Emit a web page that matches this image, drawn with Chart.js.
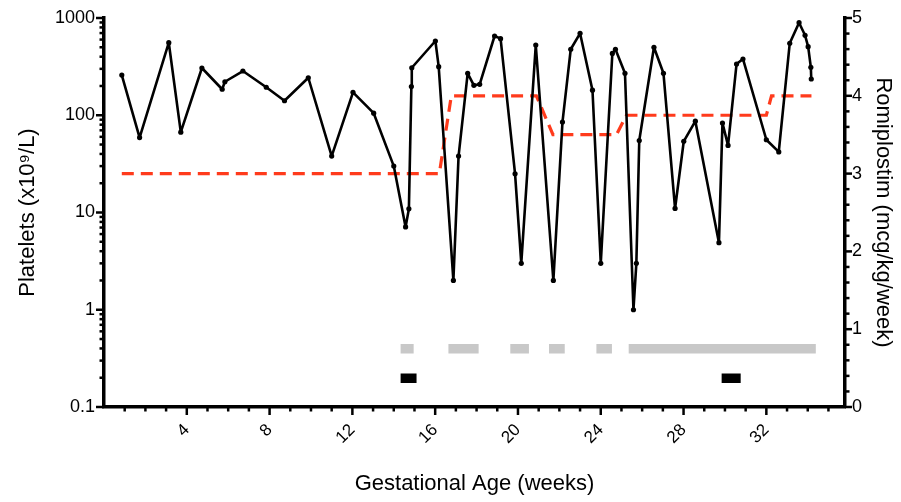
<!DOCTYPE html>
<html>
<head>
<meta charset="utf-8">
<script src="https://cdn.jsdelivr.net/npm/chart.js@4"></script>
<style>
html,body{margin:0;padding:0;background:#fff;}
#wrap{width:901px;height:502px;position:relative;}
</style>
</head>
<body>
<div id="wrap"><canvas id="c" width="901" height="502"></canvas></div>
<script>
// Gestational age (weeks) of each platelet count
const weeks = [0.86,1.72,3.13,3.71,4.73,5.71,5.84,6.71,7.84,8.72,9.87,11.0,12.03,13.03,14.0,14.57,14.73,14.85,14.87,16.01,16.17,16.88,17.13,17.57,17.87,18.15,18.87,19.16,19.86,20.16,20.86,21.71,22.15,22.55,23.0,23.6,24.0,24.56,24.71,25.17,25.58,25.72,25.86,26.57,27.03,27.59,28.01,28.57,29.71,29.88,30.15,30.56,30.87,32.0,32.6,33.13,33.58,33.87,34.02,34.15,34.17];
// Platelets (x10^9/L)
const platelets = [259,59,557,67,306,185,221,285,194,141,243,38,172,105,30,7.1,10.9,197,308,580,316,2,38,270,203,208,653,613,25,3,527,2,85,477,696,181,3,432,477,270,1,3,55,500,270,11,54,87,4.9,83,49,336,379,56,42,549,895,664,507,311,236];
// Romiplostim dose (mcg/kg/week)
const doseWeeks = [0.86,16.2,16.78,20.89,21.69,24.76,25.24,32.0,32.25,34.18];
const doseValues = [3,3,4,4,3.5,3.5,3.75,3.75,4,4];
// Grey treatment bars (weeks)
const grayStart = [14.33,16.64,19.63,21.5,23.79,25.35];
const grayEnd   = [14.96,18.1,20.53,22.26,24.54,34.39];
const grayLevel = 0.75;
// Black treatment bars (weeks)
const blackStart = [14.33,29.84];
const blackEnd   = [15.1,30.76];
const blackLevel = 0.37;
// Axis ticks
const xTickLabels = [4,8,12,16,20,24,28,32];
const yLogLabels = [0.1,1,10,100,1000];
const y1Labels = [0,1,2,3,4,5];

function segments(starts, ends, level){
  const out = [];
  for (let i=0;i<starts.length;i++){
    out.push({x:starts[i], y:level});
    out.push({x:ends[i], y:level});
    out.push({x:(ends[i]+(starts[i+1]!==undefined?starts[i+1]:ends[i]+1))/2, y:null});
  }
  return out;
}

const FONT = "'Liberation Sans', Arial, Helvetica, sans-serif";

const tickPlugin = {
  id:'ticks',
  afterDraw(chart){
    const ctx = chart.ctx;
    const ca = chart.chartArea;
    ctx.save();
    ctx.strokeStyle = '#000';
    ctx.lineWidth = 2.5;
    ctx.lineCap = 'butt';
    const x = chart.scales.x;
    for (let v=1; v<=35; v++){
      const px = x.getPixelForValue(v);
      const len = (v%4===0)?8:4.5;
      ctx.beginPath(); ctx.moveTo(px, ca.bottom); ctx.lineTo(px, ca.bottom+len); ctx.stroke();
    }
    const y = chart.scales.y;
    y.ticks.forEach(t=>{
      const py = y.getPixelForValue(t.value);
      const major = yLogLabels.some(l=>Math.abs(l-t.value)<1e-9);
      const len = major?8:4.5;
      ctx.beginPath(); ctx.moveTo(ca.left, py); ctx.lineTo(ca.left-len, py); ctx.stroke();
    });
    const y1 = chart.scales.y1;
    y1.ticks.forEach(t=>{
      const py = y1.getPixelForValue(t.value);
      const major = y1Labels.some(l=>Math.abs(l-t.value)<1e-6);
      const len = major?7:4.5;
      ctx.beginPath(); ctx.moveTo(ca.right, py); ctx.lineTo(ca.right+len, py); ctx.stroke();
    });
    ctx.restore();
  }
};

new Chart(document.getElementById('c'), {
  type:'line',
  data:{
    datasets:[
      {
        data: weeks.map((w,i)=>({x:w,y:platelets[i]})),
        yAxisID:'y', borderColor:'#000', backgroundColor:'#000',
        borderWidth:2.6, borderJoinStyle:'round', pointRadius:2.6, pointBackgroundColor:'#000', pointBorderWidth:0,
        tension:0, order:1
      },
      {
        data: doseWeeks.map((w,i)=>({x:w,y:doseValues[i]})),
        yAxisID:'y1', borderColor:'#ff3b1c', borderWidth:3.2, borderDash:[12,7],
        pointRadius:0, tension:0, order:2
      },
      {
        data: segments(grayStart, grayEnd, grayLevel),
        yAxisID:'y1', borderColor:'#c8c8c8', borderWidth:9.5, borderCapStyle:'butt',
        pointRadius:0, spanGaps:false, order:3
      },
      {
        data: segments(blackStart, blackEnd, blackLevel),
        yAxisID:'y1', borderColor:'#000', borderWidth:9.5, borderCapStyle:'butt',
        pointRadius:0, spanGaps:false, order:3
      }
    ]
  },
  options:{
    responsive:false, animation:false,
    layout:{padding:{top:18,left:0,right:0,bottom:0}},
    plugins:{legend:{display:false}, tooltip:{enabled:false}},
    scales:{
      x:{
        type:'linear', min:0, max:35.8,
        afterFit(s){ s.height = 95; },
        ticks:{stepSize:1, autoSkip:false, minRotation:45, maxRotation:45, padding:5,
          color:'#000', font:{family:FONT, size:17},
          callback:(v)=> xTickLabels.includes(v) ? String(v) : ''},
        grid:{display:true, drawOnChartArea:false, drawTicks:true, tickLength:8, tickColor:'rgba(0,0,0,0)'},
        border:{display:true, color:'#000', width:3.5},
        title:{display:true, text:'Gestational Age (weeks)', color:'#000', font:{family:FONT, size:22}, padding:{top:5,bottom:5}}
      },
      y:{
        type:'logarithmic', position:'left', min:0.1, max:1000,
        afterFit(s){ s.width = 104; },
        afterBuildTicks(s){
          const t=[];
          for (let e=-1;e<3;e++){ for (let m=1;m<10;m++){ t.push({value: +(m*Math.pow(10,e)).toPrecision(6)}); } }
          t.push({value:1000});
          s.ticks = t;
        },
        ticks:{autoSkip:false, padding:3, color:'#000', font:{family:FONT, size:18},
          callback:(v)=> yLogLabels.some(l=>Math.abs(l-v)<1e-9) ? String(v) : ''},
        grid:{display:true, drawOnChartArea:false, drawTicks:true, tickLength:6, tickColor:'rgba(0,0,0,0)'},
        border:{display:true, color:'#000', width:3.5},
        title:{display:true, text:'Platelets (x10\u2079/L)', color:'#000', font:{family:FONT, size:22}, padding:{top:15,bottom:0}}
      },
      y1:{
        type:'linear', position:'right', min:0, max:5,
        afterFit(s){ s.width = 56; },
        ticks:{stepSize:0.2, autoSkip:false, padding:2, color:'#000', font:{family:FONT, size:18},
          callback:(v)=> y1Labels.some(l=>Math.abs(l-v)<1e-6) ? String(Math.round(v)) : ''},
        grid:{display:true, drawOnChartArea:false, drawTicks:true, tickLength:5, tickColor:'rgba(0,0,0,0)'},
        border:{display:true, color:'#000', width:3.5},
        title:{display:true, text:'Romiplostim (mcg/kg/week)', color:'#000', font:{family:FONT, size:22}, padding:{top:5,bottom:0}}
      }
    }
  },
  plugins:[tickPlugin]
});
</script>
</body>
</html>
